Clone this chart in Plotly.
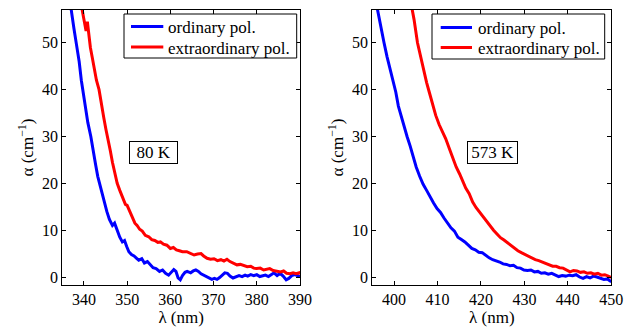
import plotly.graph_objects as go

# 80 K, ordinary polarization
x80_ord = [336.6, 337.1, 337.7, 338.3, 338.9, 339.4, 339.9, 340.4, 340.9, 341.6,
           342.1, 342.7, 343.2, 343.6, 344.3, 344.8, 345.3, 345.9, 346.6, 347.1,
           347.7, 348.3, 348.9, 349.4, 349.9, 350.4, 351.0, 351.6, 352.2, 352.7,
           353.4, 354.0, 354.7, 355.3, 356.0, 356.7, 357.5, 358.2, 358.9, 359.6,
           360.2, 360.8, 361.3, 361.8, 362.3, 362.8, 363.4, 363.9, 364.7, 365.3,
           365.9, 366.5, 367.1, 367.7, 368.3, 368.9, 369.6, 370.2, 370.8, 371.4,
           372.0, 372.6, 373.2, 373.8, 374.5, 375.3, 375.9, 376.6, 377.3, 377.9,
           378.6, 379.3, 380.0, 380.7, 381.4, 382.0, 382.7, 383.4, 384.0, 384.7,
           385.4, 386.1, 386.8, 387.4, 388.1, 388.8, 389.5, 390.0]
y80_ord = [60, 56.5, 53, 49.5, 46, 42, 39, 36, 33, 30,
           27, 24, 21.5, 20, 17.5, 15.5, 14, 12.3, 11, 11.5,
           10, 8.5, 7.5, 7.8, 6.5, 5.4, 4.8, 4.5, 4.0, 3.6,
           3.9, 3.0, 3.3, 2.6, 2.0, 1.8, 1.2, 1.5, 0.8, 0.4,
           0.9, 1.6, 1.2, -0.2, -0.6, 0.3, 1.0, 1.2, 0.9, 1.3,
           1.5, 1.2, 0.7, 0.4, 0.2, -0.2, -0.5, -0.3, -0.5, -0.1,
           0.4, 0.9, 0.8, 0.2, -0.2, 0.1, 0.3, 0.1, 0.4, 0.2,
           0.5, 0.3, 0.5, 0.1, 0.3, 0.4, 0.1, 0.5, 0.9, 0.3,
           0.8, 0.2, -0.6, -0.3, 0.3, 0.5, 0.2, 0.1]

# 80 K, extraordinary polarization
x80_ext = [339.4, 339.8, 340.2, 340.5, 340.8, 341.2, 341.5, 341.9, 342.4, 342.9,
           343.5, 344.0, 344.6, 345.1, 345.6, 346.1, 346.6, 347.2, 347.7, 348.3,
           348.9, 349.6, 350.0, 350.6, 351.2, 351.8, 352.3, 352.9, 353.5, 354.2,
           355.0, 355.7, 356.4, 357.1, 357.7, 358.4, 359.2, 360.0, 360.7, 361.4,
           362.1, 362.8, 363.8, 364.7, 365.5, 366.3, 367.1, 367.7, 368.5, 369.3,
           370.1, 370.9, 371.7, 372.4, 373.1, 373.8, 374.7, 375.4, 376.2, 377.0,
           377.8, 378.6, 379.3, 380.0, 380.8, 381.6, 382.3, 383.0, 383.8, 384.7,
           385.5, 386.2, 386.9, 387.7, 388.4, 389.1, 389.8, 390.0]
y80_ext = [58, 56, 54, 52.5, 54.5, 51, 49, 47, 44.5, 42,
           40, 37, 34, 31.5, 29.5, 27, 24.5, 22, 20, 18.5,
           17, 15.5, 15.3, 14, 12.8, 11.5, 11.0, 10.2, 9.8, 8.9,
           8.6, 8.0, 7.8, 7.4, 7.5, 7.0, 6.8, 6.1, 6.3, 5.8,
           5.6, 5.4, 5.4, 5.0, 4.7, 4.9, 5.0, 4.5, 4.0, 3.8,
           3.9, 3.5, 3.7, 3.4, 3.8, 3.3, 2.9, 2.6, 2.7, 2.5,
           2.2, 2.3, 1.9, 1.8, 1.9, 1.5, 1.6, 1.8, 1.4, 1.2,
           1.1, 1.3, 0.8, 0.7, 0.9, 0.7, 0.9, 0.6]

# 573 K, ordinary polarization
x573_ord = [396.0, 396.8, 397.7, 398.4, 399.1, 399.8, 400.4, 401.0, 401.6, 402.3,
            403.0, 403.7, 404.4, 405.1, 405.9, 406.7, 407.5, 408.3, 409.1, 409.9,
            410.7, 411.5, 412.3, 413.1, 413.9, 414.7, 415.5, 416.3, 417.1, 417.9,
            418.7, 419.5, 420.3, 421.1, 421.9, 422.7, 423.5, 424.3, 425.1, 425.9,
            426.7, 427.5, 428.3, 429.1, 429.9, 430.7, 431.5, 432.3, 433.1, 433.9,
            434.7, 435.5, 436.3, 437.1, 437.9, 438.7, 439.5, 440.3, 441.1, 441.9,
            442.7, 443.5, 444.3, 445.1, 445.9, 446.7, 447.5, 448.3, 449.1, 450.0]
y573_ord = [58, 54, 50, 47, 44.5, 41.5, 39.5, 36.5, 34.5, 32,
            30, 28, 25.5, 23.5, 21.5, 19.8, 18.5, 17, 15.8, 14.6,
            13.8, 12.6, 11.4, 10.5, 9.8, 8.5, 8.0, 7.5, 6.8, 6.1,
            5.8, 5.3, 5.2, 4.6, 4.1, 3.7, 3.5, 3.2, 2.8, 2.7,
            2.4, 2.5, 2.0, 1.9, 1.5, 1.4, 1.5, 1.1, 1.2, 0.8,
            0.9, 0.6, 0.8, 0.4, 0.1, 0.3, 0.2, 0.4, 0.3, 0.5,
            0.0, -0.3, 0.1, -0.2, 0.2, 0.0, -0.3, -0.5, -0.4, -1.0]

# 573 K, extraordinary polarization
x573_ext = [404.0, 404.6, 405.4, 406.1, 406.8, 407.5, 408.1, 408.8, 409.6, 410.4,
            411.2, 411.9, 412.7, 413.5, 414.3, 415.1, 415.8, 416.5, 417.3, 418.1,
            418.9, 419.7, 420.5, 421.3, 422.1, 422.9, 423.7, 424.5, 425.3, 426.1,
            426.9, 427.7, 428.5, 429.3, 430.1, 430.9, 431.7, 432.5, 433.3, 434.1,
            434.9, 435.7, 436.5, 437.3, 438.1, 438.9, 439.7, 440.5, 441.3, 442.1,
            442.9, 443.7, 444.5, 445.3, 446.1, 446.9, 447.7, 448.5, 449.3, 450.0]
y573_ext = [58, 55, 50, 47, 44, 41.5, 39.5, 37, 34.5, 32.5,
            31, 29.5, 27.5, 25.5, 23.5, 22, 20.3, 19, 17.8, 16,
            14.8, 13.8, 12.8, 12.0, 10.8, 10.0, 9.2, 8.4, 7.9, 7.3,
            6.6, 6.2, 5.6, 5.2, 4.8, 4.5, 4.1, 3.7, 3.5, 3.2,
            2.9, 2.7, 2.3, 2.3, 2.0, 1.9, 1.5, 1.1, 1.4, 1.3,
            1.0, 1.1, 0.8, 0.9, 0.6, 0.8, 0.4, 0.5, 0.2, -0.1]

ticks_left = [340, 350, 360, 370, 380, 390]
ticks_right = [400, 410, 420, 430, 440, 450]
ticks_y = [0, 10, 20, 30, 40, 50]
series_names = ["ordinary pol.", "extraordinary pol."]
panel_labels = ["80 K", "573 K"]

FONT = "Times New Roman, Liberation Serif, Tinos, DejaVu Serif, serif"
FS_TICK = 16
FS = 17
BLUE, RED = "#0000ff", "#ff0000"

# the page body has an 8 px margin; size the figure so it fills the 636x329 window
OFF = 8
FW, FH = 636 - OFF, 329 - OFF


def px(x):
    return (x - OFF) / FW


def py(y):
    return 1 - (y - OFF) / FH


fig = go.Figure()
fig.add_trace(go.Scatter(x=x80_ord, y=y80_ord, mode="lines", name=series_names[0],
                         line=dict(color=BLUE, width=3), xaxis="x", yaxis="y"))
fig.add_trace(go.Scatter(x=x80_ext, y=y80_ext, mode="lines", name=series_names[1],
                         line=dict(color=RED, width=3), xaxis="x", yaxis="y"))
fig.add_trace(go.Scatter(x=x573_ord, y=y573_ord, mode="lines", name=series_names[0],
                         line=dict(color=BLUE, width=3), xaxis="x2", yaxis="y2"))
fig.add_trace(go.Scatter(x=x573_ext, y=y573_ext, mode="lines", name=series_names[1],
                         line=dict(color=RED, width=3), xaxis="x2", yaxis="y2"))

ydom = [py(285), py(10)]
common = dict(showline=True, linecolor="black", linewidth=1, mirror="ticks",
              ticks="inside", ticklen=4, tickcolor="black", showgrid=False,
              zeroline=False, automargin=False,
              tickfont=dict(family=FONT, size=FS_TICK, color="black"))
xt = dict(text="λ (nm)", standoff=0, font=dict(family=FONT, size=FS))
yt = dict(text="α (cm<sup>−1</sup>)", standoff=4, font=dict(family=FONT, size=FS))

# hand-drawn legends (box, line samples, labels) matching the reference layout
shapes = []
annotations = []
legend_boxes = [
    # box x0, x1, y0, y1, line x0, line x1, line ys, text x
    (124, 296.7, 14, 58, 131, 163.3, (26.5, 47), 166),
    (432, 604.7, 14, 59, 440.7, 472, (27.5, 47.5), 475.7),
]
for bx0, bx1, by0, by1, lx0, lx1, lys, tx in legend_boxes:
    shapes.append(dict(type="rect", xref="paper", yref="paper",
                       x0=px(bx0), x1=px(bx1), y0=py(by1), y1=py(by0),
                       line=dict(color="black", width=1), fillcolor="white", layer="above"))
    for ly, col, name in zip(lys, (BLUE, RED), series_names):
        shapes.append(dict(type="line", xref="paper", yref="paper",
                           x0=px(lx0), x1=px(lx1), y0=py(ly), y1=py(ly),
                           line=dict(color=col, width=3), layer="above"))
        annotations.append(dict(text=name, x=px(tx), y=py(ly + 1), xref="paper", yref="paper",
                                xanchor="left", yanchor="middle", showarrow=False,
                                font=dict(family=FONT, size=FS, color="black")))

for label, cx, cy, w in [(panel_labels[0], 153.7, 153, 45), (panel_labels[1], 492.8, 152, 47)]:
    annotations.append(dict(text=label, x=px(cx), y=py(cy), xref="paper", yref="paper",
                            xanchor="center", yanchor="middle",
                            showarrow=False, bordercolor="black", borderwidth=1, borderpad=1,
                            width=w, height=19, align="center", valign="middle",
                            bgcolor="white", font=dict(family=FONT, size=FS, color="black")))

fig.update_layout(
    width=FW, height=FH,
    margin=dict(l=0, r=0, t=0, b=0),
    paper_bgcolor="white", plot_bgcolor="white",
    font=dict(family=FONT, size=FS, color="black"),
    showlegend=False,
    xaxis=dict(domain=[px(62.3), px(300)], range=[335, 390], tickvals=ticks_left,
               anchor="y", title=xt, **common),
    yaxis=dict(domain=ydom, range=[-1.7, 57], tickvals=ticks_y, anchor="x",
               title=yt, **common),
    xaxis2=dict(domain=[px(372.3), px(611.3)], range=[395, 450], tickvals=ticks_right,
                anchor="y2", title=xt, **common),
    yaxis2=dict(domain=ydom, range=[-1.7, 57], tickvals=ticks_y, anchor="x2",
                title=yt, **common),
    shapes=shapes,
    annotations=annotations,
)

fig.write_html("out.html")
